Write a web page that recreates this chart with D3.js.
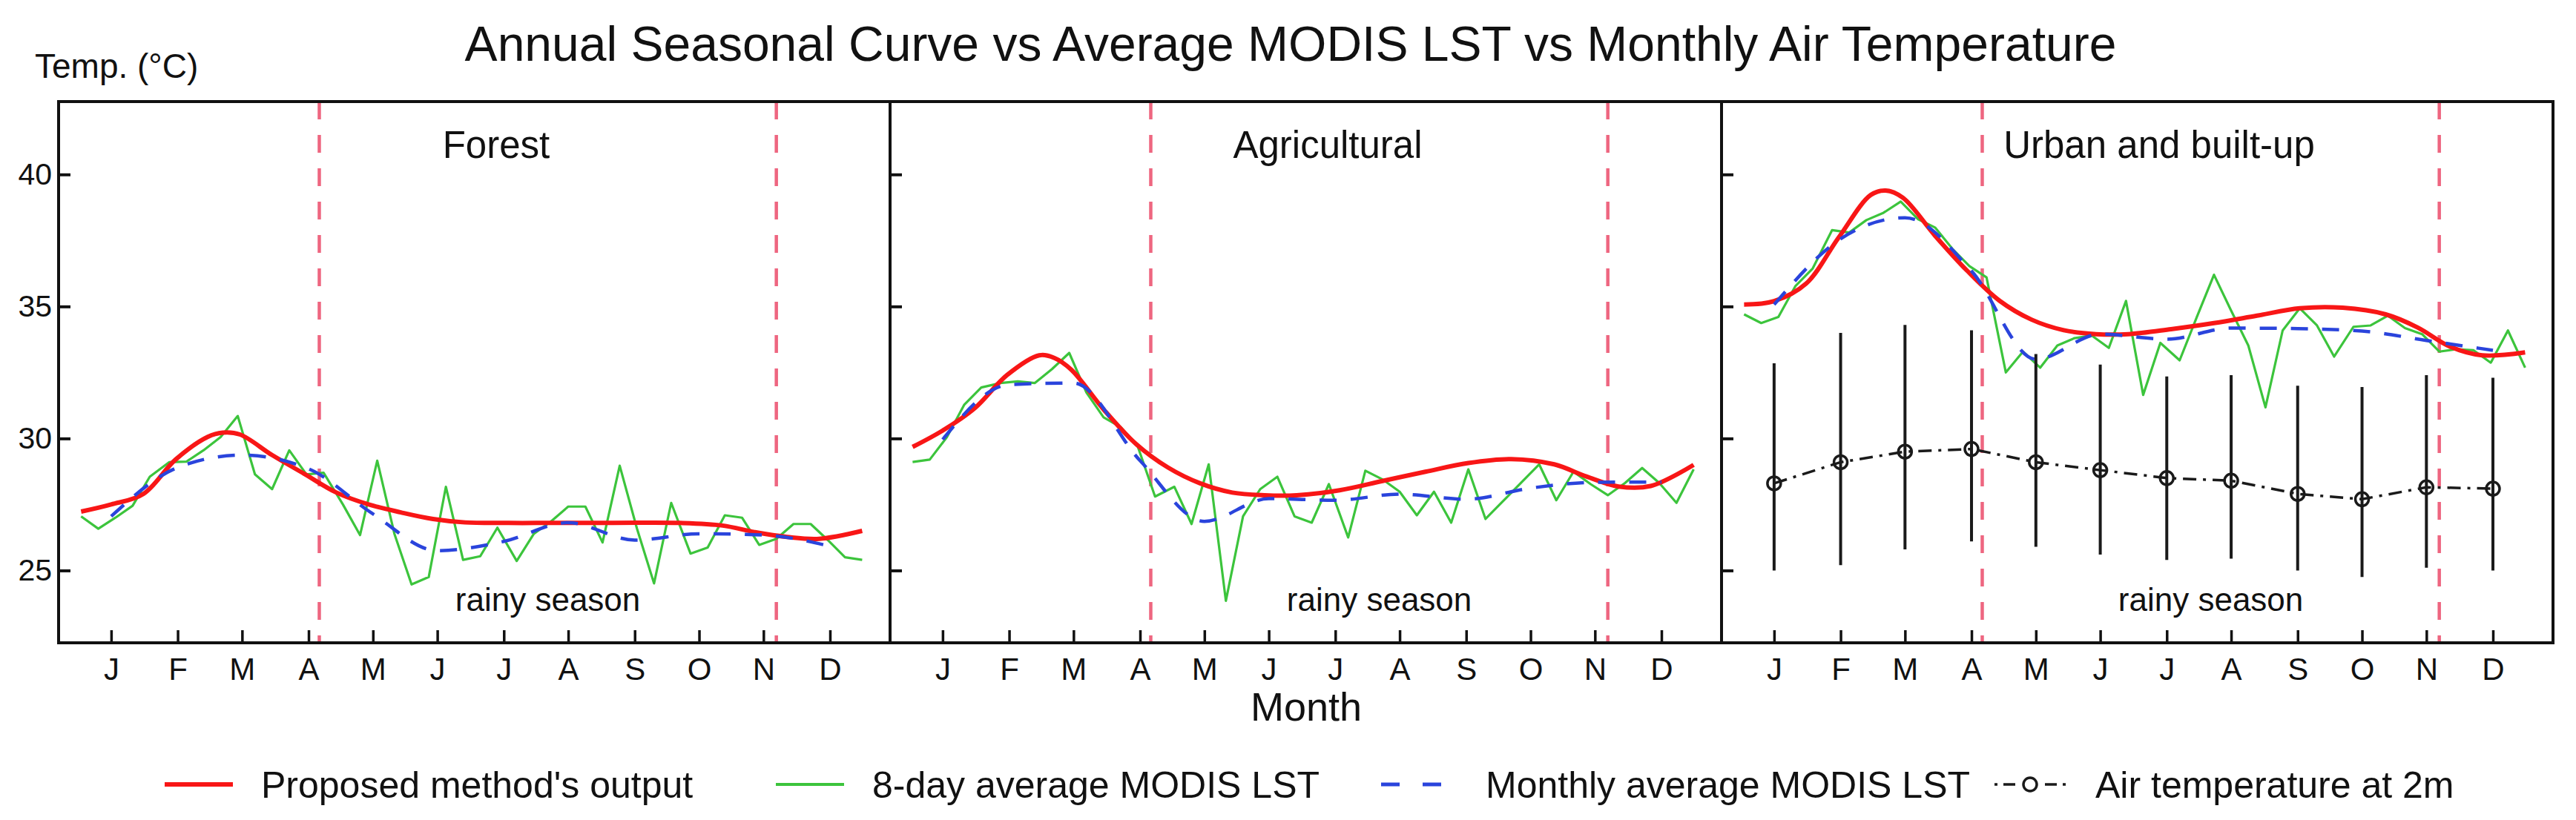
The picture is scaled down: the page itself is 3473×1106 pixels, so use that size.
<!DOCTYPE html>
<html><head><meta charset="utf-8">
<script src="https://cdn.jsdelivr.net/npm/d3@7"></script>
<style>
body{margin:0;background:#fff}
svg{display:block}
text{font-family:"Liberation Sans",Arial,Helvetica,sans-serif;fill:#111}
</style>
</head><body>
<svg id="c" width="3473" height="1106"></svg>
<script>
// ---------------- data ----------------
const monthLabels = ["J","F","M","A","M","J","J","A","S","O","N","D"];
const monthDays = [15,46,76,107,137,167,198,228,259,289,319,350];
const panelTitles = ["Forest","Agricultural","Urban and built-up"];
const yTicks = [25,30,35,40];
const rainyDays = [112,325];
const rainyLabel = "rainy season";

const redDays   = [1,15,30,45,60,67,75,90,105,120,135,150,165,180,200,220,240,260,280,300,315,330,345,365];
const redForest = [27.23,27.5,27.9,29.2,30.06,30.22,30.15,29.37,28.66,27.95,27.5,27.2,26.95,26.82,26.8,26.8,26.8,26.81,26.8,26.7,26.45,26.27,26.2,26.5];
const redAgri   = [29.68,30.3,31.15,32.4,33.15,33.05,32.6,31.1,29.8,28.9,28.3,27.95,27.85,27.85,28.04,28.39,28.74,29.07,29.22,29.02,28.56,28.18,28.2,29.0];
const redUrban  = [35.07,35.2,35.87,37.6,39.22,39.39,39.12,37.68,36.35,35.22,34.5,34.1,33.95,33.95,34.14,34.37,34.65,34.93,34.95,34.7,34.2,33.48,33.15,33.26];

const greenDays = [1,9,17,25,33,42,50,58,66,74,82,90,98,106,114,123,131,139,147,155,163,171,179,187,195,204,212,220,228,236,244,252,260,268,276,285,293,301,309,317,325,333,341,349,357,365];
const greenForest = [27.05,26.58,27.0,27.45,28.55,29.1,29.12,29.55,30.05,30.85,28.64,28.08,29.55,28.64,28.7,27.5,26.34,29.16,26.39,24.47,24.75,28.17,25.4,25.54,26.62,25.36,26.39,26.86,27.42,27.42,26.06,28.97,26.6,24.51,27.56,25.64,25.87,27.09,27.0,25.97,26.2,26.76,26.76,26.15,25.5,25.4];
const greenAgri = [29.11,29.2,30.05,31.27,31.93,32.1,32.16,32.1,32.63,33.24,31.74,30.8,30.43,29.68,27.8,28.17,26.76,29.02,23.85,27.05,28.08,28.55,27.05,26.81,28.27,26.25,28.78,28.45,27.98,27.09,27.98,26.81,28.83,26.95,27.61,28.36,29.02,27.66,28.74,28.27,27.85,28.31,28.88,28.31,27.56,28.83];
const greenUrban = [34.7,34.37,34.6,35.78,36.44,37.89,37.8,38.27,38.55,38.97,38.31,37.99,37.19,36.53,36.1,32.5,33.29,32.68,33.52,33.8,33.9,33.43,35.21,31.65,33.62,32.96,34.6,36.2,34.84,33.52,31.18,34.09,34.93,34.28,33.1,34.23,34.28,34.65,34.18,33.95,33.29,33.38,33.34,32.87,34.09,32.68];

const blueForest = [27.05,28.9,29.37,28.85,27.14,25.75,26.1,26.81,26.15,26.39,26.34,25.92];
const blueAgri   = [29.96,32.04,32.1,29.16,26.86,27.72,27.66,27.89,27.7,28.12,28.34,28.35];
const blueUrban  = [35.07,37.56,38.36,36.34,33.0,33.95,33.76,34.18,34.16,34.07,33.71,33.34];

const airMean = [28.3,29.1,29.5,29.6,29.1,28.8,28.5,28.4,27.9,27.7,28.15,28.1];
const airHigh = [32.85,34.0,34.3,34.1,33.2,32.8,32.35,32.4,32.0,31.95,32.4,32.3];
const airLow  = [25.0,25.2,25.8,26.1,25.9,25.6,25.4,25.45,25.0,24.75,25.1,25.0];

const legendLabels = ["Proposed method's output","8-day average MODIS LST","Monthly average MODIS LST","Air temperature at 2m"];

// ---------------- layout ----------------
const svg = d3.select("#c");
const P0 = 79, PW = 1121, TOP = 137, BOT = 867;
const C = {red:"#f81616", green:"#3cc43c", blue:"#2a44dc", rainy:"#ee6680", air:"#1a1a1a"};
const y = d3.scaleLinear().domain([22.26, 42.76]).range([BOT, TOP]);

const panels = [
  {red:redForest, green:greenForest, blue:blueForest, air:false},
  {red:redAgri, green:greenAgri, blue:blueAgri, air:false},
  {red:redUrban, green:greenUrban, blue:blueUrban, air:true}
];

svg.append("text").attr("x",1740).attr("y",82).attr("text-anchor","middle")
  .attr("font-size",66).text("Annual Seasonal Curve vs Average MODIS LST vs Monthly Air Temperature");
svg.append("text").attr("x",47).attr("y",105).attr("font-size",46).text("Temp. (°C)");
svg.append("text").attr("x",1761).attr("y",972).attr("text-anchor","middle").attr("font-size",54).text("Month");

panels.forEach((p,i)=>{
  const L = P0 + i*PW;
  const x = d3.scaleLinear().domain([-9.5,378]).range([L, L+PW]);
  const g = svg.append("g");

  rainyDays.forEach(d=>{
    g.append("line").attr("x1",x(d)).attr("x2",x(d)).attr("y1",TOP).attr("y2",BOT)
      .attr("stroke",C.rainy).attr("stroke-width",4.5).attr("stroke-dasharray","24,21");
  });

  g.append("path").datum(greenDays.map((d,j)=>[d,p.green[j]]))
    .attr("d", d3.line().x(d=>x(d[0])).y(d=>y(d[1])))
    .attr("fill","none").attr("stroke",C.green).attr("stroke-width",3.2).attr("stroke-linejoin","round");

  g.append("path").datum(redDays.map((d,j)=>[d,p.red[j]]))
    .attr("d", d3.line().curve(d3.curveCatmullRom.alpha(0.5)).x(d=>x(d[0])).y(d=>y(d[1])))
    .attr("fill","none").attr("stroke",C.red).attr("stroke-width",6);

  g.append("path").datum(monthDays.map((d,j)=>[d,p.blue[j]]))
    .attr("d", d3.line().curve(d3.curveMonotoneX).x(d=>x(d[0])).y(d=>y(d[1])))
    .attr("fill","none").attr("stroke",C.blue).attr("stroke-width",4.5).attr("stroke-dasharray","23,19");

  if (p.air) {
    const ag = g.append("g");
    ag.selectAll("line.bar").data(monthDays).join("line").attr("class","bar")
      .attr("x1",d=>x(d)).attr("x2",d=>x(d))
      .attr("y1",(d,j)=>y(airHigh[j])).attr("y2",(d,j)=>y(airLow[j]))
      .attr("stroke",C.air).attr("stroke-width",4);
    ag.append("path").datum(monthDays.map((d,j)=>[d,airMean[j]]))
      .attr("d", d3.line().x(d=>x(d[0])).y(d=>y(d[1])))
      .attr("fill","none").attr("stroke",C.air).attr("stroke-width",3.5).attr("stroke-dasharray","18,9,4,9");
    ag.selectAll("circle").data(monthDays).join("circle")
      .attr("cx",d=>x(d)).attr("cy",(d,j)=>y(airMean[j])).attr("r",9)
      .attr("fill","none").attr("stroke",C.air).attr("stroke-width",3.5);
  }

  const xa = d3.axisBottom(x).tickValues(monthDays).tickFormat((d,j)=>monthLabels[j])
    .tickSizeInner(-17).tickSizeOuter(0).tickPadding(20);
  const xg = g.append("g").attr("transform",`translate(0,${BOT})`).call(xa);
  xg.select(".domain").remove();
  xg.selectAll("line").attr("stroke","#111").attr("stroke-width",3.5);
  xg.selectAll("text").attr("font-size",42).attr("font-family",'"Liberation Sans",Arial,sans-serif').attr("fill","#111");

  const ya = d3.axisLeft(y).tickValues(yTicks).tickSizeInner(-16).tickSizeOuter(0).tickPadding(9)
    .tickFormat(i===0 ? d3.format("d") : ()=> "");
  const yg = g.append("g").attr("transform",`translate(${L},0)`).call(ya);
  yg.select(".domain").remove();
  yg.selectAll("line").attr("stroke","#111").attr("stroke-width",4);
  yg.selectAll("text").attr("font-size",41).attr("font-family",'"Liberation Sans",Arial,sans-serif').attr("fill","#111");

  g.append("rect").attr("x",L).attr("y",TOP).attr("width",PW).attr("height",BOT-TOP)
    .attr("fill","none").attr("stroke","#111").attr("stroke-width",4);

  g.append("text").attr("x",L+590).attr("y",213).attr("text-anchor","middle").attr("font-size",51).text(panelTitles[i]);
  g.append("text").attr("x",x((rainyDays[0]+rainyDays[1])/2)).attr("y",824).attr("text-anchor","middle")
    .attr("font-size",44).text(rainyLabel);
});

// ---------------- legend ----------------
const LY = 1058, LT = 1076;
const leg = svg.append("g");
const items = [
  {x1:222,x2:314,tx:352},
  {x1:1046,x2:1138,tx:1176},
  {x1:1862,x2:1943,tx:2003},
  {x1:2689,x2:2785,tx:2825}
];
leg.append("line").attr("x1",items[0].x1).attr("x2",items[0].x2).attr("y1",LY).attr("y2",LY).attr("stroke",C.red).attr("stroke-width",6);
leg.append("line").attr("x1",items[1].x1).attr("x2",items[1].x2).attr("y1",LY).attr("y2",LY).attr("stroke",C.green).attr("stroke-width",4);
leg.append("line").attr("x1",items[2].x1).attr("x2",items[2].x2).attr("y1",LY).attr("y2",LY).attr("stroke",C.blue).attr("stroke-width",5).attr("stroke-dasharray","25,31");
leg.append("line").attr("x1",items[3].x1).attr("x2",items[3].x2).attr("y1",LY).attr("y2",LY).attr("stroke",C.air).attr("stroke-width",3.5).attr("stroke-dasharray","4,8,16,40,16,8,4");
leg.append("circle").attr("cx",(items[3].x1+items[3].x2)/2).attr("cy",LY).attr("r",9).attr("fill","none").attr("stroke",C.air).attr("stroke-width",3.5);
items.forEach((it,j)=>{
  leg.append("text").attr("x",it.tx).attr("y",LT).attr("font-size",50).text(legendLabels[j]);
});
</script>
</body></html>
